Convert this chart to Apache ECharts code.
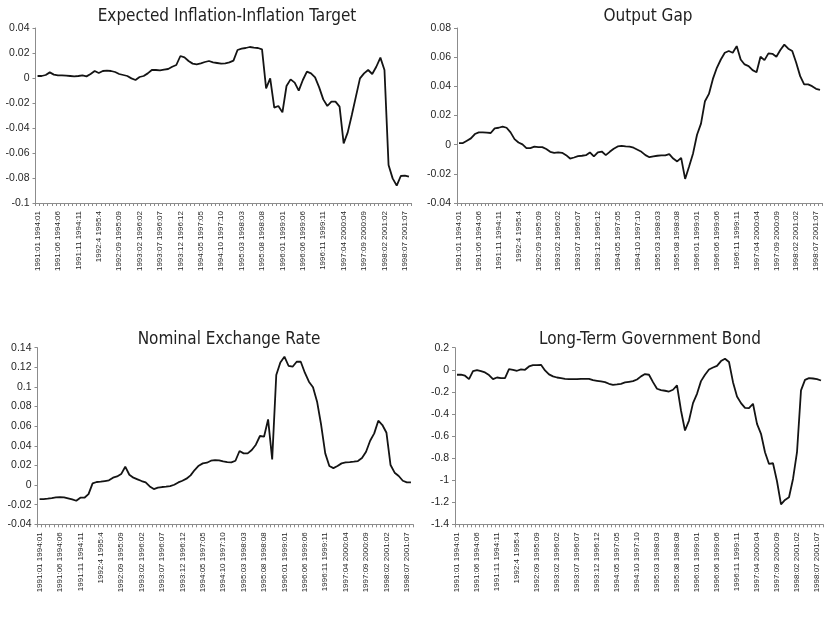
<!DOCTYPE html>
<html>
<head>
<meta charset="utf-8">
<script src="https://cdn.jsdelivr.net/npm/echarts/dist/echarts.min.js"></script>
<style>
html,body{margin:0;padding:0;background:#fff;}
#chart{width:826px;height:617px;}
</style>
</head>
<body>
<div id="chart"></div>
<script>
const categories = [
"1991:01 1994:01","1991:02 1994:02","1991:03 1994:03","1991:04 1994:04","1991:05 1994:05","1991:06 1994:06","1991:07 1994:07","1991:08 1994:08","1991:09 1994:09","1991:10 1994:10","1991:11 1994:11","1991:12 1994:12",
"1992:01 1995:01","1992:02 1995:02","1992:03 1995:03","1992:4 1995:4","1992:05 1995:05","1992:06 1995:06","1992:07 1995:07","1992:08 1995:08","1992:09 1995:09","1992:10 1995:10","1992:11 1995:11","1992:12 1995:12",
"1993:01 1996:01","1993:02 1996:02","1993:03 1996:03","1993:04 1996:04","1993:05 1996:05","1993:06 1996:06","1993:07 1996:07","1993:08 1996:08","1993:09 1996:09","1993:10 1996:10","1993:11 1996:11","1993:12 1996:12",
"1994:01 1997:01","1994:02 1997:02","1994:03 1997:03","1994:04 1997:04","1994:05 1997:05","1994:06 1997:06","1994:07 1997:07","1994:08 1997:08","1994:09 1997:09","1994:10 1997:10","1994:11 1997:11","1994:12 1997:12",
"1995:01 1998:01","1995:02 1998:02","1995:03 1998:03","1995:04 1998:04","1995:05 1998:05","1995:06 1998:06","1995:07 1998:07","1995:08 1998:08","1995:09 1998:09","1995:10 1998:10","1995:11 1998:11","1995:12 1998:12",
"1996:01 1999:01","1996:02 1999:02","1996:03 1999:03","1996:04 1999:04","1996:05 1999:05","1996:06 1999:06","1996:07 1999:07","1996:08 1999:08","1996:09 1999:09","1996:10 1999:10","1996:11 1999:11","1996:12 1999:12",
"1997:01 2000:01","1997:02 2000:02","1997:03 2000:03","1997:04 2000:04","1997:05 2000:05","1997:06 2000:06","1997:07 2000:07","1997:08 2000:08","1997:09 2000:09","1997:10 2000:10","1997:11 2000:11","1997:12 2000:12",
"1998:01 2001:01","1998:02 2001:02","1998:03 2001:03","1998:04 2001:04","1998:05 2001:05","1998:06 2001:06","1998:07 2001:07","1998:08 2001:08"
];

const titles = ["Expected Inflation-Inflation Target","Output Gap","Nominal Exchange Rate","Long-Term Government Bond"];

const inflationGap = [
0.0016,0.0016,0.0024,0.0045,0.0027,0.0021,0.0021,0.0019,0.0016,0.0013,
0.0016,0.0021,0.0013,0.0032,0.0056,0.0040,0.0056,0.0059,0.0056,0.0048,
0.0032,0.0024,0.0016,-0.0003,-0.0016,0.0008,0.0016,0.0037,0.0064,0.0064,
0.0061,0.0067,0.0072,0.0090,0.0104,0.0176,0.0165,0.0136,0.0115,0.0109,
0.0117,0.0128,0.0136,0.0125,0.0120,0.0115,0.0117,0.0125,0.0139,0.0224,
0.0235,0.0240,0.0248,0.0243,0.0240,0.0229,-0.0083,-0.0003,-0.0237,-0.0224,
-0.0275,-0.0064,-0.0011,-0.0037,-0.0101,-0.0016,0.0051,0.0037,0.0005,-0.0075,
-0.0171,-0.0224,-0.0189,-0.0189,-0.0229,-0.0523,-0.0435,-0.0296,-0.0149,-0.0003,
0.0037,0.0064,0.0032,0.0090,0.0163,0.0064,-0.0696,-0.0803,-0.0861,-0.0784,
-0.0781,-0.0789
];

const outputGap = [
0.0011,0.0011,0.0027,0.0043,0.0073,0.0084,0.0084,0.0082,0.0080,0.0112,
0.0116,0.0123,0.0116,0.0084,0.0038,0.0015,0.0002,-0.0024,-0.0024,-0.0014,
-0.0017,-0.0017,-0.0030,-0.0049,-0.0056,-0.0053,-0.0056,-0.0072,-0.0095,-0.0088,
-0.0079,-0.0076,-0.0072,-0.0053,-0.0081,-0.0053,-0.0047,-0.0072,-0.0049,-0.0028,
-0.0012,-0.0008,-0.0012,-0.0014,-0.0021,-0.0035,-0.0049,-0.0072,-0.0086,-0.0081,
-0.0076,-0.0074,-0.0074,-0.0065,-0.0095,-0.0115,-0.0090,-0.0235,-0.0150,-0.0060,
0.0068,0.0144,0.0298,0.0348,0.0451,0.0527,0.0584,0.0630,0.0642,0.0630,
0.0676,0.0584,0.0550,0.0539,0.0511,0.0497,0.0603,0.0580,0.0626,0.0623,
0.0603,0.0649,0.0686,0.0658,0.0642,0.0562,0.0470,0.0413,0.0413,0.0401,
0.0383,0.0376
];

const exchangeRate = [
-0.0143,-0.0143,-0.0139,-0.0133,-0.0126,-0.0122,-0.0126,-0.0136,-0.0146,-0.0160,
-0.0129,-0.0129,-0.0092,0.0017,0.0031,0.0034,0.0041,0.0048,0.0075,0.0088,
0.0112,0.0187,0.0105,0.0075,0.0058,0.0041,0.0027,-0.0014,-0.0041,-0.0027,
-0.0020,-0.0017,-0.0010,0.0003,0.0027,0.0044,0.0065,0.0099,0.0153,0.0197,
0.0221,0.0228,0.0248,0.0255,0.0251,0.0241,0.0234,0.0231,0.0248,0.0347,
0.0323,0.0323,0.0357,0.0411,0.0500,0.0493,0.0669,0.0262,0.1121,0.1250,
0.1308,0.1216,0.1206,0.1257,0.1257,0.1145,0.1053,0.0996,0.0850,0.0612,
0.0323,0.0194,0.0173,0.0194,0.0221,0.0231,0.0234,0.0238,0.0245,0.0275,
0.0340,0.0452,0.0527,0.0656,0.0612,0.0533,0.0204,0.0126,0.0092,0.0044,
0.0027,0.0027
];

const bondYield = [
-0.045,-0.045,-0.054,-0.085,-0.012,-0.003,-0.012,-0.024,-0.048,-0.085,
-0.070,-0.076,-0.076,0.006,0.000,-0.009,0.003,0.000,0.030,0.042,
0.042,0.045,-0.006,-0.042,-0.060,-0.070,-0.076,-0.082,-0.085,-0.085,
-0.085,-0.082,-0.082,-0.082,-0.094,-0.100,-0.106,-0.112,-0.127,-0.136,
-0.133,-0.127,-0.115,-0.109,-0.103,-0.088,-0.060,-0.039,-0.045,-0.112,
-0.172,-0.184,-0.190,-0.197,-0.181,-0.142,-0.369,-0.550,-0.460,-0.302,
-0.218,-0.103,-0.045,0.003,0.021,0.036,0.079,0.100,0.070,-0.112,
-0.242,-0.302,-0.345,-0.348,-0.308,-0.490,-0.580,-0.747,-0.853,-0.847,
-1.010,-1.220,-1.179,-1.155,-0.989,-0.747,-0.187,-0.091,-0.076,-0.079,
-0.085,-0.097
];

const yMin = [-0.1, -0.04, -0.04, -1.4];
const yMax = [0.04, 0.08, 0.14, 0.2];
const yStep = [0.02, 0.02, 0.02, 0.2];

const seriesData = [inflationGap, outputGap, exchangeRate, bondYield];

// layout (pixels)
const grids = [
  {left: 35.5, top: 28, width: 375.5, height: 175},
  {left: 457, top: 28, width: 365, height: 175},
  {left: 37.5, top: 347.7, width: 375.5, height: 176.6},
  {left: 455, top: 347.7, width: 368, height: 176.6}
];
const titlePos = [[227, 8], [648, 8], [229, 331], [650, 331]];

const axisGray = '#8c8c8c';
const labelColor = '#262626';

const option = {
  animation: false,
  backgroundColor: '#ffffff',
  title: titles.map((t, i) => ({
    text: t,
    left: titlePos[i][0],
    top: titlePos[i][1],
    textAlign: 'center',
    padding: 0,
    textStyle: {
      fontFamily: '"DejaVu Sans Condensed", "Liberation Sans Narrow", "Arial Narrow", sans-serif',
      fontWeight: 'normal',
      fontSize: 17,
      color: '#222'
    }
  })),
  grid: grids.map(g => Object.assign({containLabel: false}, g)),
  xAxis: grids.map((g, i) => ({
    type: 'category',
    gridIndex: i,
    data: categories,
    boundaryGap: true,
    axisLine: {show: true, onZero: false, lineStyle: {color: axisGray, width: 1}},
    axisTick: {show: true, interval: 0, length: 3, inside: false, lineStyle: {color: axisGray}},
    axisLabel: {
      interval: 4,
      rotate: 90,
      fontSize: 8,
      margin: 8,
      color: labelColor,
      fontFamily: '"Liberation Sans", Arial, sans-serif'
    },
    splitLine: {show: false}
  })),
  yAxis: grids.map((g, i) => ({
    type: 'value',
    gridIndex: i,
    min: yMin[i],
    max: yMax[i],
    interval: yStep[i],
    axisLine: {show: true, lineStyle: {color: axisGray, width: 1}},
    axisTick: {show: true, length: 3, lineStyle: {color: axisGray}},
    axisLabel: {
      fontSize: 10.5,
      margin: 6,
      color: labelColor,
      fontFamily: '"Liberation Sans", Arial, sans-serif',
      formatter: v => String(parseFloat(v.toFixed(4)))
    },
    splitLine: {show: false}
  })),
  series: seriesData.map((d, i) => ({
    type: 'line',
    name: titles[i],
    xAxisIndex: i,
    yAxisIndex: i,
    data: d,
    symbol: 'none',
    smooth: false,
    lineStyle: {color: '#141414', width: 1.8},
    itemStyle: {color: '#141414'}
  }))
};

const chart = echarts.init(document.getElementById('chart'), null, {renderer: 'canvas'});
chart.setOption(option);
</script>
</body>
</html>
